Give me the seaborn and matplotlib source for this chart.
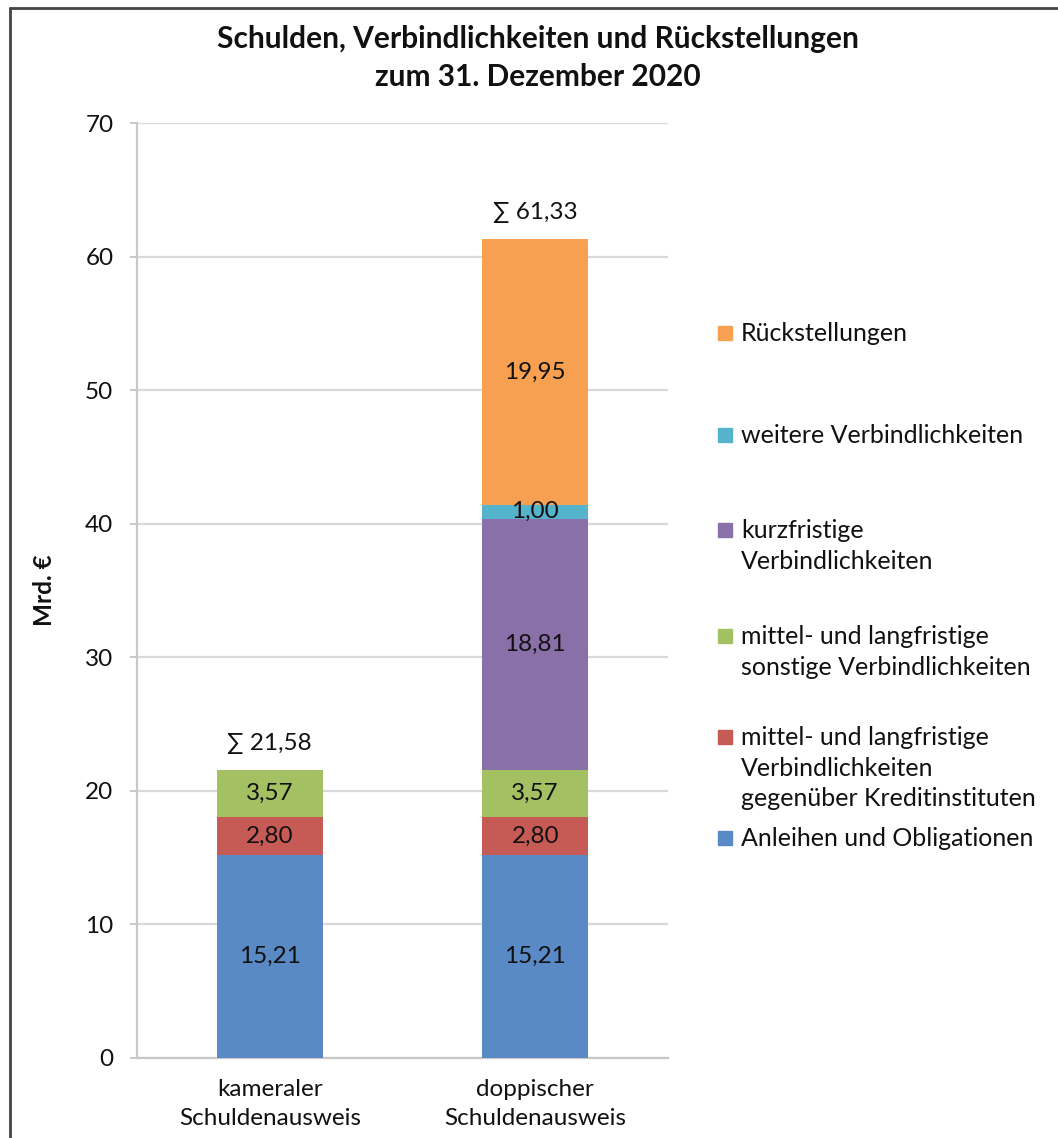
import numpy as np
import pandas as pd
import matplotlib.pyplot as plt
import seaborn as sns
from matplotlib.lines import Line2D
from matplotlib.patches import Rectangle

# data
categories = ["kameraler\nSchuldenausweis", "doppischer\nSchuldenausweis"]
series = [
    "Anleihen und Obligationen",
    "mittel- und langfristige\nVerbindlichkeiten\ngegenüber Kreditinstituten",
    "mittel- und langfristige\nsonstige Verbindlichkeiten",
    "kurzfristige\nVerbindlichkeiten",
    "weitere Verbindlichkeiten",
    "Rückstellungen",
]
anleihen = [15.21, 15.21]
kredit = [2.80, 2.80]
sonstige = [3.57, 3.57]
kurzfristig = [0.0, 18.81]
weitere = [0.0, 1.00]
rueckstellungen = [0.0, 19.95]
totals = [21.58, 61.33]

colors = ["#5A8AC6", "#C65B56", "#A3C163", "#8A70A8", "#55B3CC", "#F8A052"]

values = np.array([anleihen, kredit, sonstige, kurzfristig, weitere, rueckstellungen])
cum = values.cumsum(axis=0)

sns.set_theme(style="white")
plt.rcParams["font.family"] = ["Lato", "DejaVu Sans"]

fig = plt.figure(figsize=(10.58, 11.38), dpi=100)
ax = fig.add_axes([137 / 1058, 80 / 1138, 531 / 1058, 935 / 1138])

# stacked bars: draw cumulative totals from the top layer down
for i in range(len(series) - 1, -1, -1):
    h = np.where(values[i] > 0, cum[i], np.nan)
    df = pd.DataFrame({"cat": categories, "val": h})
    sns.barplot(data=df, x="cat", y="val", color=colors[i], width=0.4,
                saturation=1, linewidth=0, ax=ax, zorder=3)

# segment labels
for i in range(len(series)):
    for j in range(len(categories)):
        v = values[i][j]
        if v > 0:
            ax.text(j, cum[i][j] - v / 2, f"{v:.2f}".replace(".", ","),
                    ha="center", va="center", fontsize=17.5, color="#111111", zorder=4)

# totals above the bars
for j, t in enumerate(totals):
    ax.annotate("∑ " + f"{t:.2f}".replace(".", ","), (j, cum[-1][j]),
                xytext=(0, 19), textcoords="offset points",
                ha="center", va="center", fontsize=17.5, color="#111111",
                family=["Lato", "DejaVu Sans"])

ax.set_xlim(-0.5, 1.5)
ax.set_ylim(0, 70)
ax.set_yticks(range(0, 71, 10))
ax.yaxis.grid(True, color="#D9D9D9", linewidth=1.6, zorder=0)
ax.set_axisbelow(True)
ax.set_xlabel("")
ax.set_ylabel("")
for s in ["top", "right"]:
    ax.spines[s].set_visible(False)
for s in ["left", "bottom"]:
    ax.spines[s].set_color("#C8C8C8")
    ax.spines[s].set_linewidth(1.6)
ax.tick_params(axis="y", length=5, width=1.4, color="#C8C8C8", pad=12,
               labelsize=17.5, labelcolor="#111111", left=True)
ax.tick_params(axis="x", length=0, pad=15, labelsize=17.5, labelcolor="#111111")
for lab in ax.get_xticklabels():
    lab.set_linespacing(1.5)

fig.text(538 / 1058, 1 - 58 / 1138,
         "Schulden, Verbindlichkeiten und Rückstellungen\nzum 31. Dezember 2020",
         ha="center", va="center", fontsize=21.5, fontweight="bold",
         linespacing=1.4, color="#111111")
fig.text(45 / 1058, 1 - 590 / 1138, "Mrd. €", rotation=90, ha="center",
         va="center", fontsize=17.5, fontweight="bold", color="#111111")

# legend, laid out like the spreadsheet one
legend_y = [838, 737, 636, 530, 435, 333]
for i, lab in enumerate(series):
    y = 1 - legend_y[i] / 1138
    fig.patches.append(Rectangle((718 / 1058, y - 7 / 1138), 14 / 1058, 14 / 1138,
                                 transform=fig.transFigure, color=colors[i]))
    fig.text(741 / 1058, y + 11 / 1138, lab, ha="left", va="top", fontsize=18,
             linespacing=1.4, color="#111111")

# outer frame (left and top edges visible)
fig.add_artist(Line2D([10 / 1058, 10 / 1058], [0, 1 - 8 / 1138],
                      transform=fig.transFigure, color="#444444", linewidth=2))
fig.add_artist(Line2D([10 / 1058, 1], [1 - 8 / 1138, 1 - 8 / 1138],
                      transform=fig.transFigure, color="#444444", linewidth=2))

fig.savefig("out.png", dpi=100)
